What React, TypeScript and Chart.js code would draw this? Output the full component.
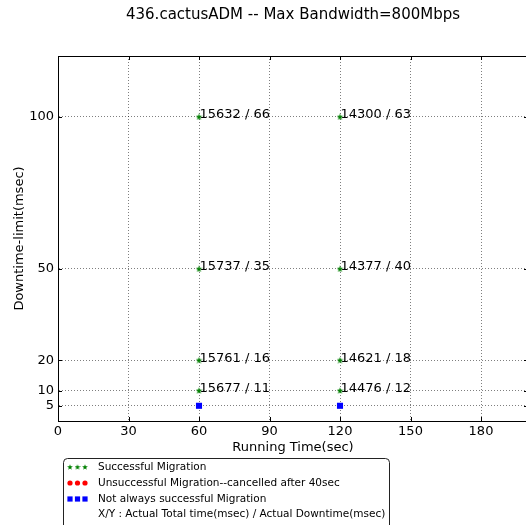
import React, { useEffect, useRef } from 'react';
import { Chart, registerables } from 'chart.js';

Chart.register(...registerables);

const TITLE = '436.cactusADM -- Max Bandwidth=800Mbps';
const X_LABEL = 'Running Time(sec)';
const Y_LABEL = 'Downtime-limit(msec)';
const X_TICKS = [0, 30, 60, 90, 120, 150, 180];
const Y_TICKS = [5, 10, 20, 50, 100];
const X_MIN = 0;
const X_MAX = 200;
const Y_MIN = 0;
const Y_MAX = 120;

const successX = [60, 60, 60, 60, 120, 120, 120, 120];
const successY = [10, 20, 50, 100, 10, 20, 50, 100];
const successLabels = [
  '15677 / 11', '15761 / 16', '15737 / 35', '15632 / 66',
  '14476 / 12', '14621 / 18', '14377 / 40', '14300 / 63',
];
const cancelledX: number[] = [];
const cancelledY: number[] = [];
const partialX = [60, 120];
const partialY = [5, 5];

const LEGEND_ITEMS = [
  'Successful Migration',
  'Unsuccessful Migration--cancelled after 40sec',
  'Not always successful Migration',
  'X/Y : Actual Total time(msec) / Actual Downtime(msec)',
];

const FONT = '"DejaVu Sans", "Liberation Sans", sans-serif';
const GREEN = '#008000';
const RED = '#ff0000';
const BLUE = '#0000ff';

function makeStar(size: number, color: string): HTMLCanvasElement {
  const c = document.createElement('canvas');
  c.width = size;
  c.height = size;
  const ctx = c.getContext('2d')!;
  const cx = size / 2;
  const cy = size / 2 + 0.3;
  const R = size / 2;
  const r = R * 0.42;
  ctx.beginPath();
  for (let i = 0; i < 10; i++) {
    const a = -Math.PI / 2 + (i * Math.PI) / 5;
    const rad = i % 2 === 0 ? R : r;
    ctx.lineTo(cx + rad * Math.cos(a), cy + rad * Math.sin(a));
  }
  ctx.closePath();
  ctx.fillStyle = color;
  ctx.fill();
  return c;
}

export default function App() {
  const ref = useRef<HTMLCanvasElement | null>(null);

  useEffect(() => {
    const canvas = ref.current;
    if (!canvas) return;
    const star = makeStar(7, GREEN);
    const legendStar = makeStar(6, GREEN);

    const customPlugin = {
      id: 'customDecor',
      afterDraw(chart: any) {
        const { ctx, chartArea: ca, scales } = chart;
        const xs = scales.x;
        const ys = scales.y;
        ctx.save();
        // top frame line
        ctx.strokeStyle = '#000';
        ctx.lineWidth = 1;
        ctx.setLineDash([]);
        ctx.beginPath();
        ctx.moveTo(ca.left, Math.round(ca.top) + 0.5);
        ctx.lineTo(ca.right, Math.round(ca.top) + 0.5);
        ctx.stroke();
        // inward ticks
        ctx.beginPath();
        X_TICKS.forEach((v) => {
          const px = Math.round(xs.getPixelForValue(v)) + 0.5;
          ctx.moveTo(px, ca.bottom);
          ctx.lineTo(px, ca.bottom - 4);
          ctx.moveTo(px, ca.top);
          ctx.lineTo(px, ca.top + 4);
        });
        Y_TICKS.forEach((v) => {
          const py = Math.round(ys.getPixelForValue(v)) + 0.5;
          ctx.moveTo(ca.left, py);
          ctx.lineTo(ca.left + 4, py);
          ctx.moveTo(ca.right, py);
          ctx.lineTo(ca.right - 4, py);
        });
        ctx.stroke();

        // title
        ctx.fillStyle = '#000';
        ctx.font = `15px ${FONT}`;
        ctx.textAlign = 'center';
        ctx.textBaseline = 'alphabetic';
        ctx.fillText(TITLE, (ca.left + ca.right) / 2, 19);

        // point annotations
        ctx.font = `13px ${FONT}`;
        ctx.textAlign = 'left';
        successX.forEach((x, i) => {
          const px = xs.getPixelForValue(x);
          const py = ys.getPixelForValue(successY[i]);
          ctx.fillText(successLabels[i], px + 0.5, py + 1.5);
        });

        // legend box
        const lx = 63.5;
        const ly = 458.5;
        const lw = 326;
        const lh = 80;
        const rr = 4;
        ctx.beginPath();
        ctx.moveTo(lx + rr, ly);
        ctx.lineTo(lx + lw - rr, ly);
        ctx.arcTo(lx + lw, ly, lx + lw, ly + rr, rr);
        ctx.lineTo(lx + lw, ly + lh);
        ctx.lineTo(lx, ly + lh);
        ctx.lineTo(lx, ly + rr);
        ctx.arcTo(lx, ly, lx + rr, ly, rr);
        ctx.closePath();
        ctx.fillStyle = '#fff';
        ctx.fill();
        ctx.strokeStyle = '#222';
        ctx.lineWidth = 1;
        ctx.stroke();

        const rowsY = [467, 483, 499, 514];
        const mx = [70, 77.5, 85];
        ctx.font = `10.5px ${FONT}`;
        ctx.textBaseline = 'middle';
        ctx.fillStyle = '#000';
        LEGEND_ITEMS.forEach((t, i) => {
          ctx.fillStyle = '#000';
          ctx.fillText(t, 98, rowsY[i]);
        });
        mx.forEach((x) => {
          ctx.drawImage(legendStar, x - 3, rowsY[0] - 3);
          ctx.fillStyle = RED;
          ctx.beginPath();
          ctx.arc(x, rowsY[1], 2.6, 0, Math.PI * 2);
          ctx.fill();
          ctx.fillStyle = BLUE;
          ctx.fillRect(x - 2.6, rowsY[2] - 2.6, 5.2, 5.2);
        });
        ctx.restore();
      },
    };

    const chart = new Chart(canvas, {
      type: 'scatter',
      data: {
        datasets: [
          {
            label: LEGEND_ITEMS[0],
            data: successX.map((x, i) => ({ x, y: successY[i] })),
            pointStyle: star as any,
            backgroundColor: GREEN,
            borderColor: GREEN,
          },
          {
            label: LEGEND_ITEMS[1],
            data: cancelledX.map((x, i) => ({ x, y: cancelledY[i] })),
            pointStyle: 'circle',
            pointRadius: 3,
            backgroundColor: RED,
            borderColor: RED,
          },
          {
            label: LEGEND_ITEMS[2],
            data: partialX.map((x, i) => ({ x, y: partialY[i] })),
            pointStyle: 'rect',
            pointRadius: 4.3,
            borderWidth: 0,
            backgroundColor: BLUE,
            borderColor: BLUE,
          },
        ],
      },
      options: {
        responsive: false,
        animation: false,
        devicePixelRatio: 1,
        layout: { padding: { top: 56, left: 0, right: 58, bottom: 70 } },
        plugins: {
          legend: { display: false },
          title: { display: false },
          tooltip: { enabled: false },
        },
        scales: {
          x: {
            type: 'linear',
            min: X_MIN,
            max: X_MAX,
            afterBuildTicks: (s: any) => {
              s.ticks = X_TICKS.map((v) => ({ value: v }));
            },
            afterFit: (s: any) => {
              s.height = 34;
            },
            grid: { color: 'rgba(0,0,0,0.5)', drawTicks: false, lineWidth: 1 },
            border: { display: true, color: '#000', width: 1, dash: [1, 2] },
            ticks: {
              font: { family: FONT, size: 13 },
              color: '#000',
              padding: 3,
              maxRotation: 0,
              autoSkip: false,
            },
            title: {
              display: true,
              text: X_LABEL,
              font: { family: FONT, size: 13 },
              color: '#000',
              padding: 0,
            },
          },
          y: {
            type: 'linear',
            min: Y_MIN,
            max: Y_MAX,
            afterBuildTicks: (s: any) => {
              s.ticks = Y_TICKS.map((v) => ({ value: v }));
            },
            afterFit: (s: any) => {
              s.width = 58;
            },
            grid: { color: 'rgba(0,0,0,0.5)', drawTicks: false, lineWidth: 1 },
            border: { display: true, color: '#000', width: 1, dash: [1, 2] },
            ticks: {
              font: { family: FONT, size: 13 },
              color: '#000',
              padding: 4,
              autoSkip: false,
            },
            title: {
              display: true,
              text: Y_LABEL,
              font: { family: FONT, size: 13 },
              color: '#000',
              padding: { top: 12, bottom: 0 },
            },
          },
        },
      },
      plugins: [customPlugin],
    });
    return () => chart.destroy();
  }, []);

  return (
    <div
      style={{
        position: 'fixed',
        left: 0,
        top: 0,
        width: 526,
        height: 525,
        overflow: 'hidden',
        background: '#fff',
      }}
    >
      <canvas ref={ref} width={586} height={525} style={{ width: 586, height: 525, display: 'block' }} />
    </div>
  );
}
